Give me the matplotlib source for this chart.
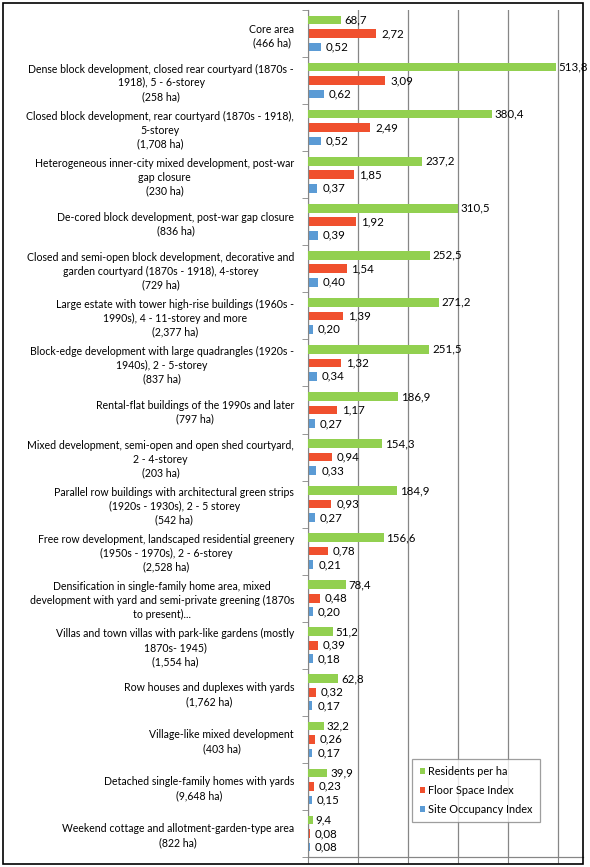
import numpy as np
import matplotlib.pyplot as plt
from matplotlib.patches import Rectangle
from matplotlib.ticker import FixedLocator

plt.rcParams['font.family'] = ['Lato', 'DejaVu Sans']

categories = [
    "Core area\n(466 ha)",
    "Dense block development, closed rear courtyard (1870s -\n1918), 5 - 6-storey\n(258 ha)",
    "Closed block development, rear courtyard (1870s - 1918),\n5-storey\n(1,708 ha)",
    "Heterogeneous inner-city mixed development, post-war\ngap closure\n(230 ha)",
    "De-cored block development, post-war gap closure\n(836 ha)",
    "Closed and semi-open block development, decorative and\ngarden courtyard (1870s - 1918), 4-storey\n(729 ha)",
    "Large estate with tower high-rise buildings (1960s -\n1990s), 4 - 11-storey and more\n(2,377 ha)",
    "Block-edge development with large quadrangles (1920s -\n1940s), 2 - 5-storey\n(837 ha)",
    "Rental-flat buildings of the 1990s and later\n(797 ha)",
    "Mixed development, semi-open and open shed courtyard,\n2 - 4-storey\n(203 ha)",
    "Parallel row buildings with architectural green strips\n(1920s - 1930s), 2 - 5 storey\n(542 ha)",
    "Free row development, landscaped residential greenery\n(1950s - 1970s), 2 - 6-storey\n(2,528 ha)",
    "Densification in single-family home area, mixed\ndevelopment with yard and semi-private greening (1870s\nto present)...",
    "Villas and town villas with park-like gardens (mostly\n1870s- 1945)\n(1,554 ha)",
    "Row houses and duplexes with yards\n(1,762 ha)",
    "Village-like mixed development\n(403 ha)",
    "Detached single-family homes with yards\n(9,648 ha)",
    "Weekend cottage and allotment-garden-type area\n(822 ha)",
]

residents = [68.7, 513.8, 380.4, 237.2, 310.5, 252.5, 271.2, 251.5, 186.9,
             154.3, 184.9, 156.6, 78.4, 51.2, 62.8, 32.2, 39.9, 9.4]
fsi = [2.72, 3.09, 2.49, 1.85, 1.92, 1.54, 1.39, 1.32, 1.17,
       0.94, 0.93, 0.78, 0.48, 0.39, 0.32, 0.26, 0.23, 0.08]
soi = [0.52, 0.62, 0.52, 0.37, 0.39, 0.40, 0.20, 0.34, 0.27,
       0.33, 0.27, 0.21, 0.20, 0.18, 0.17, 0.17, 0.15, 0.08]

c_green, c_red, c_blue = '#92D050', '#F0502E', '#5B9BD5'
grid_c = '#868686'

fig = plt.figure(figsize=(5.9, 8.67), dpi=100)
ax = fig.add_axes([308 / 590, 10 / 867, 275 / 590, 847 / 867])
ax2 = ax.twiny()
# residents axis on top of the index axis so its bars sit over the gridlines
ax.set_zorder(ax2.get_zorder() + 1)
ax.patch.set_visible(False)

y = np.arange(len(categories))
off = 0.287
h = 0.185


def comma(v, nd):
    return f"{v:.{nd}f}".replace('.', ',')


b1 = ax.barh(y - off, residents, height=h, color=c_green, label='Residents per ha', zorder=3)
b2 = ax2.barh(y, fsi, height=h, color=c_red, label='Floor Space Index', zorder=3)
b3 = ax2.barh(y + off, soi, height=h, color=c_blue, label='Site Occupancy Index', zorder=3)

ax.set_xlim(0, 570)
ax2.set_xlim(0, 11)
ax.set_ylim(len(categories) - 0.5, -0.5)

fs = 8.3
for yi, v in zip(y, residents):
    ax.text(v + 6, yi - off, comma(v, 1), va='center', ha='left', fontsize=fs, clip_on=False)
for yi, v in zip(y, fsi):
    ax2.text(v + 0.2, yi, comma(v, 2), va='center', ha='left', fontsize=fs)
for yi, v in zip(y, soi):
    ax2.text(v + 0.2, yi + off, comma(v, 2), va='center', ha='left', fontsize=fs)

# gridlines / bottom ticks from the index axis (every 2 units)
ax.set_xticks([])
ax2.xaxis.set_ticks_position('bottom')
ax2.set_xticks([0, 2, 4, 6, 8, 10])
ax2.set_xticklabels([])
ax2.xaxis.grid(True, color=grid_c, linewidth=0.9, zorder=0)
ax2.set_axisbelow(True)
ax2.tick_params(axis='x', length=4, color=grid_c, direction='out')

ax.set_yticks(y)
ax.set_yticklabels(categories, fontsize=7.6, linespacing=1.3)
for lab in ax.get_yticklabels():
    lab.set_multialignment('center')
ax.tick_params(axis='y', which='major', length=0, pad=10)
ax.yaxis.set_minor_locator(FixedLocator(np.arange(-0.5, len(categories), 1.0)))
ax.tick_params(axis='y', which='minor', length=4, color=grid_c)

for a in (ax, ax2):
    for s in ('top', 'right'):
        a.spines[s].set_visible(False)
    a.spines['left'].set_color(grid_c)
    a.spines['bottom'].set_color(grid_c)
ax2.spines['left'].set_visible(False)

leg = ax.legend(handles=[b1, b2, b3], loc='lower left',
                bbox_to_anchor=(0.378, 0.041), fontsize=7.8, frameon=True,
                fancybox=False, handlelength=0.5, handleheight=0.5,
                handletextpad=0.3, labelspacing=0.72, borderpad=0.7,
                borderaxespad=0)
leg.get_frame().set_edgecolor(grid_c)
leg.get_frame().set_linewidth(0.9)

fig.patches.append(Rectangle((3 / 590, 3 / 867), 580 / 590, 861 / 867,
                             transform=fig.transFigure, fill=False,
                             edgecolor='black', linewidth=1.2))

fig.savefig('out.png', dpi=100)
